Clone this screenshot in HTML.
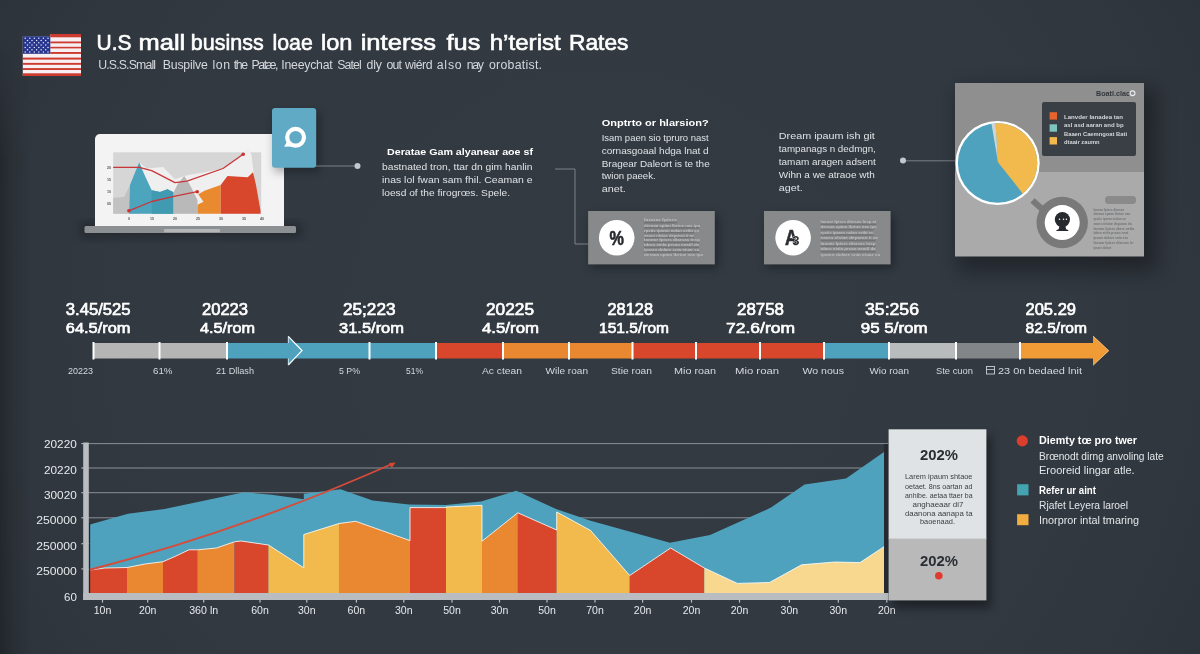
<!DOCTYPE html>
<html lang="en"><head><meta charset="utf-8"><title>U.S small business loan interest rates</title>
<style>
html,body{margin:0;padding:0;background:#323941;}
body{width:1200px;height:654px;overflow:hidden;}
svg{display:block;font-family:"Liberation Sans", Arial, sans-serif;}
</style></head><body>
<svg width="1200" height="654" viewBox="0 0 1200 654">
<defs>
<radialGradient id="vg" gradientUnits="userSpaceOnUse" cx="600" cy="327" r="700">
<stop offset="0" stop-color="#333a42"/><stop offset="0.65" stop-color="#323941"/><stop offset="0.88" stop-color="#30363d"/><stop offset="1" stop-color="#2c3239"/>
</radialGradient>
<linearGradient id="le" x1="0" x2="1" y1="0" y2="0"><stop offset="0" stop-color="#15181c" stop-opacity="0.45"/><stop offset="0.45" stop-color="#15181c" stop-opacity="0.18"/><stop offset="1" stop-color="#15181c" stop-opacity="0"/></linearGradient>
<linearGradient id="lmg" x1="0" x2="0" y1="0" y2="1"><stop offset="0.06" stop-color="#000"/><stop offset="0.24" stop-color="#fff"/><stop offset="1" stop-color="#fff"/></linearGradient>
<mask id="lm" maskUnits="userSpaceOnUse" x="0" y="0" width="40" height="654"><rect width="40" height="654" fill="url(#lmg)"/></mask>
<filter id="sh" x="-20%" y="-20%" width="150%" height="150%"><feGaussianBlur stdDeviation="5"/></filter>
<filter id="sh2" x="-30%" y="-30%" width="160%" height="160%"><feGaussianBlur stdDeviation="10"/></filter>
<filter id="soft" x="-5%" y="-5%" width="110%" height="110%"><feGaussianBlur stdDeviation="0.35"/></filter>
</defs>
<rect width="1200" height="654" fill="url(#vg)"/>
<rect width="30" height="654" fill="url(#le)" mask="url(#lm)"/>

<g id="flag">
<rect x="22.8" y="36.5" width="58.2" height="39.5" fill="#f7eff1"/>
<rect x="50.3" y="34.2" width="30.7" height="3" fill="#f7eff1"/>
<rect x="50.3" y="34.0" width="30.7" height="3.3" fill="#cc3a30"/>
<rect x="50.3" y="41.5" width="30.7" height="1.8" fill="#cc3a30"/>
<rect x="50.3" y="46.8" width="30.7" height="1.6" fill="#cc3a30"/>
<rect x="50.3" y="52" width="30.7" height="1.9" fill="#cc3a30"/>
<rect x="22.8" y="57.6" width="58.2" height="2.0" fill="#cc3a30"/>
<rect x="22.8" y="62.9" width="58.2" height="1.9" fill="#cc3a30"/>
<rect x="22.8" y="68.1" width="58.2" height="1.9" fill="#cc3a30"/>
<rect x="22.8" y="73.3" width="58.2" height="2.7" fill="#cc3a30"/>
<rect x="22.8" y="36.3" width="27.5" height="17.5" fill="#27358c"/>
<circle cx="25.2" cy="38.2" r="0.75" fill="#e4e8ff"/>
<circle cx="29.8" cy="38.2" r="0.75" fill="#e4e8ff"/>
<circle cx="34.3" cy="38.2" r="0.75" fill="#e4e8ff"/>
<circle cx="38.8" cy="38.2" r="0.75" fill="#e4e8ff"/>
<circle cx="43.4" cy="38.2" r="0.75" fill="#e4e8ff"/>
<circle cx="48.0" cy="38.2" r="0.75" fill="#e4e8ff"/>
<circle cx="27.5" cy="40.5" r="0.75" fill="#e4e8ff"/>
<circle cx="32.0" cy="40.5" r="0.75" fill="#e4e8ff"/>
<circle cx="36.6" cy="40.5" r="0.75" fill="#e4e8ff"/>
<circle cx="41.1" cy="40.5" r="0.75" fill="#e4e8ff"/>
<circle cx="45.7" cy="40.5" r="0.75" fill="#e4e8ff"/>
<circle cx="25.2" cy="42.8" r="0.75" fill="#e4e8ff"/>
<circle cx="29.8" cy="42.8" r="0.75" fill="#e4e8ff"/>
<circle cx="34.3" cy="42.8" r="0.75" fill="#e4e8ff"/>
<circle cx="38.8" cy="42.8" r="0.75" fill="#e4e8ff"/>
<circle cx="43.4" cy="42.8" r="0.75" fill="#e4e8ff"/>
<circle cx="48.0" cy="42.8" r="0.75" fill="#e4e8ff"/>
<circle cx="27.5" cy="45.1" r="0.75" fill="#e4e8ff"/>
<circle cx="32.0" cy="45.1" r="0.75" fill="#e4e8ff"/>
<circle cx="36.6" cy="45.1" r="0.75" fill="#e4e8ff"/>
<circle cx="41.1" cy="45.1" r="0.75" fill="#e4e8ff"/>
<circle cx="45.7" cy="45.1" r="0.75" fill="#e4e8ff"/>
<circle cx="25.2" cy="47.4" r="0.75" fill="#e4e8ff"/>
<circle cx="29.8" cy="47.4" r="0.75" fill="#e4e8ff"/>
<circle cx="34.3" cy="47.4" r="0.75" fill="#e4e8ff"/>
<circle cx="38.8" cy="47.4" r="0.75" fill="#e4e8ff"/>
<circle cx="43.4" cy="47.4" r="0.75" fill="#e4e8ff"/>
<circle cx="48.0" cy="47.4" r="0.75" fill="#e4e8ff"/>
<circle cx="27.5" cy="49.7" r="0.75" fill="#e4e8ff"/>
<circle cx="32.0" cy="49.7" r="0.75" fill="#e4e8ff"/>
<circle cx="36.6" cy="49.7" r="0.75" fill="#e4e8ff"/>
<circle cx="41.1" cy="49.7" r="0.75" fill="#e4e8ff"/>
<circle cx="45.7" cy="49.7" r="0.75" fill="#e4e8ff"/>
<circle cx="25.2" cy="52.0" r="0.75" fill="#e4e8ff"/>
<circle cx="29.8" cy="52.0" r="0.75" fill="#e4e8ff"/>
<circle cx="34.3" cy="52.0" r="0.75" fill="#e4e8ff"/>
<circle cx="38.8" cy="52.0" r="0.75" fill="#e4e8ff"/>
<circle cx="43.4" cy="52.0" r="0.75" fill="#e4e8ff"/>
<circle cx="48.0" cy="52.0" r="0.75" fill="#e4e8ff"/>
</g>
<text y="50.3" font-size="21.8" fill="#fff" stroke="#fff" stroke-width="0.6"><tspan x="96.5" textLength="35.0" lengthAdjust="spacingAndGlyphs">U.S</tspan> <tspan x="138.5" textLength="46.7" lengthAdjust="spacingAndGlyphs">mall</tspan> <tspan x="190.8" textLength="73.0" lengthAdjust="spacingAndGlyphs">businss</tspan> <tspan x="272.5" textLength="40.3" lengthAdjust="spacingAndGlyphs">loae</tspan> <tspan x="321" textLength="31.5" lengthAdjust="spacingAndGlyphs">lon</tspan> <tspan x="360.7" textLength="75.3" lengthAdjust="spacingAndGlyphs">interss</tspan> <tspan x="446.5" textLength="33.8" lengthAdjust="spacingAndGlyphs">fus</tspan> <tspan x="489.7" textLength="71.1" lengthAdjust="spacingAndGlyphs">h’terist</tspan> <tspan x="569" textLength="59.5" lengthAdjust="spacingAndGlyphs">Rates</tspan></text>
<text y="69.4" font-size="12.3" fill="#d4d7db"><tspan x="98.2" textLength="57.8" lengthAdjust="spacing">U.S.S.Small</tspan> <tspan x="162.8" textLength="45.0" lengthAdjust="spacing">Buspilve</tspan> <tspan x="212.5" textLength="17.5" lengthAdjust="spacing">lon</tspan> <tspan x="233.8" textLength="14.2" lengthAdjust="spacing">the</tspan> <tspan x="251.5" textLength="27.0" lengthAdjust="spacing">Patæ,</tspan> <tspan x="281.3" textLength="51.4" lengthAdjust="spacing">Ineeychat</tspan> <tspan x="337.3" textLength="24.5" lengthAdjust="spacing">Satel</tspan> <tspan x="366.5" textLength="15.5" lengthAdjust="spacing">dly</tspan> <tspan x="386.5" textLength="15.5" lengthAdjust="spacing">out</tspan> <tspan x="405" textLength="27.5" lengthAdjust="spacing">wiérd</tspan> <tspan x="436.7" textLength="25.0" lengthAdjust="spacing">also</tspan> <tspan x="466.8" textLength="17.0" lengthAdjust="spacing">nay</tspan> <tspan x="489" textLength="53" lengthAdjust="spacing">orobatist.</tspan></text>
<g id="laptop">
<rect x="80" y="222" width="222" height="16" fill="#000" opacity="0.25" filter="url(#sh)"/>
<path d="M95 226V139a5 5 0 0 1 5-5H279a5 5 0 0 1 5 5V226Z" fill="#f3f3f3"/>
<rect x="84.5" y="226" width="211.5" height="7" rx="1.5" fill="#8d9093"/>
<rect x="164" y="229" width="56" height="3.2" rx="1" fill="#b4b6b8"/>
<rect x="113.2" y="152.3" width="148" height="61.5" fill="#d6d6d6"/>
<path d="M139.3 162.2L146.5 168.5L163.0 167.0L175.0 179.3L184.3 176.0L190.0 174.8L205.0 172.2L223.0 168.5L243.2 154.2L247.7 148.2L251.5 154.5L253.5 172V213.8H139.3Z" fill="#efefef"/>
<path d="M113.2 213.8L113.2 197.7L124.0 197.0L130.0 185.0L130.0 213.8Z" fill="#c2c2c2"/>
<path d="M129.2 213.8L130.0 185.0L134.5 173.7L139.3 162.2L142.7 170.7L146.5 179.3L151.7 190.2L160.0 192.0L167.5 189.2L173.5 192.2L173.5 213.8Z" fill="#4ca4bd"/>
<path d="M151.7 213.8L151.7 190.2L160.0 192.0L167.5 189.2L173.5 192.2L173.5 213.8Z" fill="#409bb2"/>
<path d="M173.5 213.8L173.5 192.5L178.0 183.5L184.3 176.0L190.0 185.0L197.5 200.0L197.5 213.8Z" fill="#b9b9b9"/>
<path d="M197.5 213.8L197.5 204.8L203.5 201.8L198.2 194.3L205.0 190.5L220.7 185.0L220.7 213.8Z" fill="#ea8a2e"/>
<path d="M220.7 213.8L220.7 185.0L227.5 176.0L247.7 177.2L253.0 172.2L256.0 185.0L260.5 210.5L260.5 213.8Z" fill="#d8472c"/>
<path d="M113.2 167.3L139.3 167.3L151.7 170.7L175.0 182.7L187.0 181.2L223.0 168.5L243.2 154.2" fill="none" stroke="#c9363a" stroke-width="1.3" stroke-linejoin="round"/>
<path d="M128.9 210.8L151.7 201.5L175.0 196.2L197.2 191.7" fill="none" stroke="#c9363a" stroke-width="1.3" stroke-linejoin="round"/>
<circle cx="243.2" cy="154.2" r="1.8" fill="#cf2f2f"/>
<circle cx="128.9" cy="210.8" r="1.8" fill="#cf2f2f"/>
<circle cx="197.2" cy="191.7" r="1.8" fill="#cf2f2f"/>
<text x="109" y="169.3" font-size="3.6" fill="#555" font-weight="bold" text-anchor="middle">20</text>
<text x="109" y="181.3" font-size="3.6" fill="#555" font-weight="bold" text-anchor="middle">15</text>
<text x="109" y="193.3" font-size="3.6" fill="#555" font-weight="bold" text-anchor="middle">10</text>
<text x="109" y="205.3" font-size="3.6" fill="#555" font-weight="bold" text-anchor="middle">05</text>
<text x="129" y="219.6" font-size="3.6" fill="#555" font-weight="bold" text-anchor="middle">0</text>
<text x="152" y="219.6" font-size="3.6" fill="#555" font-weight="bold" text-anchor="middle">15</text>
<text x="175" y="219.6" font-size="3.6" fill="#555" font-weight="bold" text-anchor="middle">20</text>
<text x="198" y="219.6" font-size="3.6" fill="#555" font-weight="bold" text-anchor="middle">25</text>
<text x="221" y="219.6" font-size="3.6" fill="#555" font-weight="bold" text-anchor="middle">30</text>
<text x="244" y="219.6" font-size="3.6" fill="#555" font-weight="bold" text-anchor="middle">35</text>
<text x="262" y="219.6" font-size="3.6" fill="#555" font-weight="bold" text-anchor="middle">40</text>
</g>
<g id="card">
<rect x="274" y="112" width="46" height="60" fill="#000" opacity="0.3" filter="url(#sh)"/>
<rect x="272" y="108" width="44.2" height="59.7" rx="3" fill="#61aac5"/>
<circle cx="295.6" cy="137.3" r="8.4" fill="none" stroke="#fff" stroke-width="4.2"/>
<path d="M287 141.5L284.2 146.8L291.5 146.4Z" fill="#fff"/>
</g>
<path d="M316 166H357" stroke="#8d9299" stroke-width="0.8"/><circle cx="357.5" cy="166" r="3" fill="#c3c7d0"/>
<text x="387" y="154.5" font-size="9.6" fill="#fff" font-weight="bold" textLength="146" lengthAdjust="spacingAndGlyphs">Deratae Gam alyanear aoe sf</text>
<text x="382" y="169.5" font-size="9.9" fill="#e0e3e6" textLength="150.5" lengthAdjust="spacingAndGlyphs">bastnated tron, ttar dn gim hanlin</text>
<text x="382" y="183" font-size="9.9" fill="#e0e3e6" textLength="150.5" lengthAdjust="spacingAndGlyphs">inas lol fwan  sam fhil. Ceaman e</text>
<text x="382" y="196" font-size="9.9" fill="#e0e3e6" textLength="128" lengthAdjust="spacingAndGlyphs">loesd of the firogrœs. Spele.</text>
<path d="M555 169H575V244H589" fill="none" stroke="#858a91" stroke-width="0.9"/>
<text x="601.7" y="125.5" font-size="9.6" fill="#fff" font-weight="bold" textLength="107" lengthAdjust="spacingAndGlyphs">Onptrto or hlarsion?</text>
<text x="601.7" y="140.5" font-size="9.8" fill="#e0e3e6" textLength="107" lengthAdjust="spacingAndGlyphs">Isam paen sio tpruro nast</text>
<text x="601.7" y="153.8" font-size="9.8" fill="#e0e3e6" textLength="107" lengthAdjust="spacingAndGlyphs">cornasgoaal hdga lnat d</text>
<text x="601.7" y="167" font-size="9.8" fill="#e0e3e6" textLength="108" lengthAdjust="spacingAndGlyphs">Bragear Daleort is te the</text>
<text x="601.7" y="179.3" font-size="9.8" fill="#e0e3e6" textLength="54" lengthAdjust="spacingAndGlyphs">twion paeek.</text>
<text x="601.7" y="192" font-size="9.8" fill="#e0e3e6" textLength="24" lengthAdjust="spacingAndGlyphs">anet.</text>
<rect x="591.1" y="215" width="126.69999999999993" height="53" fill="#000" opacity="0.35" filter="url(#sh)"/>
<rect x="588.1" y="211" width="126.69999999999993" height="53.4" fill="#87898a"/>
<circle cx="616.7" cy="237.7" r="17.8" fill="#fff"/>
<rect x="644.1" y="221.9" width="33" height="1.6" fill="#717374"/>
<text x="644.1" y="221.3" font-size="4.0" fill="#bdbebf" font-weight="bold" textLength="33" lengthAdjust="spacingAndGlyphs">laonar fpisrs </text>
<rect x="644.1" y="227.1" width="55" height="1.6" fill="#717374"/>
<text x="644.1" y="226.7" font-size="4.0" fill="#bdbebf" font-weight="bold" textLength="56" lengthAdjust="spacingAndGlyphs">deraoa cptan lbrtue nas ipa</text>
<rect x="644.1" y="232.0" width="50" height="1.6" fill="#717374"/>
<text x="644.1" y="231.6" font-size="4.0" fill="#bdbebf" font-weight="bold" textLength="55" lengthAdjust="spacingAndGlyphs">rpstis iparan nolan seibt eu</text>
<rect x="644.1" y="236.8" width="50" height="1.6" fill="#717374"/>
<text x="644.1" y="236.6" font-size="4.0" fill="#bdbebf" font-weight="bold" textLength="50" lengthAdjust="spacingAndGlyphs">eaoru nlstae deporan ti ae</text>
<rect x="644.1" y="241.6" width="55" height="1.6" fill="#717374"/>
<text x="644.1" y="241.3" font-size="4.0" fill="#bdbebf" font-weight="bold" textLength="56" lengthAdjust="spacingAndGlyphs">laonar fpisrs diarsas lnsp</text>
<rect x="644.1" y="246.5" width="55" height="1.6" fill="#717374"/>
<text x="644.1" y="246.1" font-size="4.0" fill="#bdbebf" font-weight="bold" textLength="55" lengthAdjust="spacingAndGlyphs">tdaro einla prsao neatil da</text>
<rect x="644.1" y="251.3" width="55" height="1.6" fill="#717374"/>
<text x="644.1" y="251.1" font-size="4.0" fill="#bdbebf" font-weight="bold" textLength="55" lengthAdjust="spacingAndGlyphs">ipsarn dolare snia etuar sa</text>
<text x="644.1" y="255.8" font-size="4.0" fill="#bdbebf" font-weight="bold" textLength="59" lengthAdjust="spacingAndGlyphs">deraoa cptan lbrtue nas ipa</text>
<text x="609.6" y="244.6" font-size="20.5" font-weight="bold" fill="#27292c" stroke="#27292c" stroke-width="0.6" textLength="14.4" lengthAdjust="spacingAndGlyphs">%</text>
<rect x="767" y="215" width="126.60000000000002" height="53" fill="#000" opacity="0.35" filter="url(#sh)"/>
<rect x="764" y="211" width="126.60000000000002" height="53.4" fill="#87898a"/>
<circle cx="793.1" cy="237.7" r="17.8" fill="#fff"/>
<rect x="820.6" y="223.6" width="55.6" height="1.6" fill="#717374"/>
<text x="820.6" y="223.2" font-size="4.0" fill="#bdbebf" font-weight="bold" textLength="55.6" lengthAdjust="spacingAndGlyphs">laonar fpisrs diarsas lnsp at</text>
<rect x="820.6" y="228.9" width="53" height="1.6" fill="#717374"/>
<text x="820.6" y="228.2" font-size="4.0" fill="#bdbebf" font-weight="bold" textLength="56" lengthAdjust="spacingAndGlyphs">deraoa cptan lbrtue nas ipa</text>
<rect x="820.6" y="234.2" width="53" height="1.6" fill="#717374"/>
<text x="820.6" y="233.8" font-size="4.0" fill="#bdbebf" font-weight="bold" textLength="53" lengthAdjust="spacingAndGlyphs">rpstis iparan nolan seibt eu</text>
<rect x="820.6" y="239.7" width="55" height="1.6" fill="#717374"/>
<text x="820.6" y="238.8" font-size="4.0" fill="#bdbebf" font-weight="bold" textLength="57.5" lengthAdjust="spacingAndGlyphs">eaoru nlstae deporan ti ae</text>
<rect x="820.6" y="245.4" width="55" height="1.6" fill="#717374"/>
<text x="820.6" y="244.8" font-size="4.0" fill="#bdbebf" font-weight="bold" textLength="55" lengthAdjust="spacingAndGlyphs">laonar fpisrs diarsas lnsp</text>
<rect x="820.6" y="250.9" width="55" height="1.6" fill="#717374"/>
<text x="820.6" y="250.3" font-size="4.0" fill="#bdbebf" font-weight="bold" textLength="55" lengthAdjust="spacingAndGlyphs">tdaro einla prsao neatil da</text>
<text x="820.6" y="255.7" font-size="4.0" fill="#bdbebf" font-weight="bold" textLength="59.4" lengthAdjust="spacingAndGlyphs">ipsarn dolare snia etuar sa</text>
<text x="785" y="245.4" font-size="22" font-weight="bold" fill="#2b2d30" stroke="#2b2d30" stroke-width="0.6" textLength="12.6" lengthAdjust="spacingAndGlyphs">A</text>
<text x="792.2" y="245.3" font-size="12.5" font-weight="bold" fill="#2b2d30" stroke="#fff" stroke-width="0.5" paint-order="stroke" textLength="7.2" lengthAdjust="spacingAndGlyphs">3</text>
<text x="778.8" y="138.9" font-size="9.3" fill="#e0e3e6" textLength="96" lengthAdjust="spacingAndGlyphs">Dream ipaum ish git</text>
<text x="778.8" y="152.1" font-size="9.3" fill="#e0e3e6" textLength="97" lengthAdjust="spacingAndGlyphs">tampanags n dedmgn,</text>
<text x="778.8" y="164.8" font-size="9.3" fill="#e0e3e6" textLength="97" lengthAdjust="spacingAndGlyphs">tamam aragen adsent</text>
<text x="778.8" y="178.1" font-size="9.3" fill="#e0e3e6" textLength="96" lengthAdjust="spacingAndGlyphs">Wihn a we atraoe wth</text>
<text x="778.8" y="190.9" font-size="9.3" fill="#e0e3e6" textLength="24" lengthAdjust="spacingAndGlyphs">aget.</text>
<path d="M903 160.8H956" stroke="#8d9299" stroke-width="0.8"/><circle cx="903" cy="160.6" r="3" fill="#c3c7d0"/>
<g id="panel">
<rect x="957" y="88" width="200" height="184" fill="#000" opacity="0.33" filter="url(#sh2)"/>
<rect x="955" y="83" width="189" height="89" fill="#8f8f8f"/>
<rect x="955" y="172" width="189" height="84.5" fill="#aaaaaa"/>
<rect x="1042" y="102" width="94" height="54" rx="2" fill="#3a3f46"/>
<rect x="1049.6" y="112.2" width="7.4" height="7.4" fill="#e8642f"/>
<rect x="1049.6" y="124.3" width="7.4" height="7.4" fill="#7fc3bf"/>
<rect x="1049.6" y="137.1" width="7.4" height="7.4" fill="#f2b94c"/>
<text x="1064" y="118.8" font-size="6.0" fill="#d3d6da" font-weight="bold" textLength="59" lengthAdjust="spacingAndGlyphs">Lanvder Ianadea tan</text>
<text x="1064" y="127.4" font-size="6.0" fill="#d3d6da" font-weight="bold" textLength="59.6" lengthAdjust="spacingAndGlyphs">asl asd aaran and bp</text>
<text x="1064" y="136.1" font-size="6.0" fill="#d3d6da" font-weight="bold" textLength="63" lengthAdjust="spacingAndGlyphs">Baaen Caemngoat Bati</text>
<text x="1064" y="144.3" font-size="6.0" fill="#d3d6da" font-weight="bold" textLength="35.6" lengthAdjust="spacingAndGlyphs">dtaair zaumn</text>
<text x="1096" y="95.8" font-size="6.6" fill="#33373c" font-weight="bold" textLength="34" lengthAdjust="spacingAndGlyphs">Boatl.clac</text>
<circle cx="1132.5" cy="93.3" r="2.4" fill="none" stroke="#e8e8e8" stroke-width="1.2"/>
<circle cx="997.6" cy="163" r="42.1" fill="#fff"/>
<circle cx="997.6" cy="163" r="39.7" fill="#4fa2bd"/>
<path d="M998 162.2L995.5 123.4A39.7 39.7 0 0 1 1022.8 193.7Z" fill="#f2b94c"/>
<path d="M998 162.2L991.5 123.8A39.7 39.7 0 0 1 995.5 123.4Z" fill="#cfd6d6"/>
<path d="M1032.5 200.5L1046 212.5" stroke="#797979" stroke-width="6.3"/>
<circle cx="1062.2" cy="222.5" r="25.7" fill="#797979"/>
<circle cx="1062.2" cy="222.6" r="17.5" fill="#fff"/>
<circle cx="1062.4" cy="219.6" r="7.6" fill="#26292e"/>
<path d="M1059.6 226L1058.6 229.2Q1056.4 229.6 1056 231H1068.8Q1068.4 229.6 1066.2 229.2L1065.2 226Z" fill="#26292e"/>
<circle cx="1059.5" cy="219.3" r="0.75" fill="#fff"/>
<circle cx="1063.5" cy="219.3" r="0.75" fill="#fff"/>
<circle cx="1066.4" cy="219.3" r="0.75" fill="#fff"/>
<rect x="1105" y="196" width="31" height="8" rx="3.5" fill="#8a8a8a"/>
<text x="1093.4" y="210.7" font-size="4.0" fill="#707274" font-weight="bold" textLength="31" lengthAdjust="spacingAndGlyphs">laonar fpisrs diarsas</text>
<text x="1093.4" y="215.2" font-size="4.0" fill="#707274" font-weight="bold" textLength="37" lengthAdjust="spacingAndGlyphs">deraoa cptan lbrtue nas</text>
<text x="1093.4" y="220.1" font-size="4.0" fill="#707274" font-weight="bold" textLength="32.7" lengthAdjust="spacingAndGlyphs">rpstis iparan nolan se</text>
<text x="1093.4" y="224.7" font-size="4.0" fill="#707274" font-weight="bold" textLength="38.4" lengthAdjust="spacingAndGlyphs">eaoru nlstae deporan tia</text>
<text x="1093.4" y="229.6" font-size="4.0" fill="#707274" font-weight="bold" textLength="40.7" lengthAdjust="spacingAndGlyphs">laonar fpisrs diars aetla</text>
<text x="1093.4" y="234.2" font-size="4.0" fill="#707274" font-weight="bold" textLength="35" lengthAdjust="spacingAndGlyphs">tdaro einla prsao neat</text>
<text x="1093.4" y="239.0" font-size="4.0" fill="#707274" font-weight="bold" textLength="34.4" lengthAdjust="spacingAndGlyphs">ipsarn dolare snia etu</text>
<text x="1093.4" y="243.6" font-size="4.0" fill="#707274" font-weight="bold" textLength="40" lengthAdjust="spacingAndGlyphs">laonar fpisrs diarsas ln</text>
<text x="1093.4" y="248.6" font-size="4.0" fill="#707274" font-weight="bold" textLength="18" lengthAdjust="spacingAndGlyphs">ipsarn dolare</text>
</g>
<g id="timeline">
<rect x="93" y="343" width="66" height="15.5" fill="#b5b5b5"/>
<rect x="159" y="343" width="68" height="15.5" fill="#b5b5b5"/>
<rect x="227" y="343" width="209" height="15.5" fill="#4fa2bd"/>
<rect x="436" y="343" width="67" height="15.5" fill="#d8472c"/>
<rect x="503" y="343" width="129.5" height="15.5" fill="#ea8831"/>
<rect x="632.5" y="343" width="191.5" height="15.5" fill="#d8472c"/>
<rect x="824" y="343" width="65" height="15.5" fill="#4fa2bd"/>
<rect x="889" y="343" width="67" height="15.5" fill="#b9bcbc"/>
<rect x="956" y="343" width="64" height="15.5" fill="#838688"/>
<rect x="1020" y="343" width="74" height="15.5" fill="#f09b36"/>
<path d="M1093 335.8L1109 350.7L1093 365.6Z" fill="#f09b36"/>
<path d="M1093.2 336.2L1108.7 350.7L1093.2 365.2" fill="none" stroke="#fbe6bd" stroke-width="0.7" opacity="0.8"/>
<path d="M288 336.6L301.8 350.6L288 364.8Z" fill="#4fa2bd"/>
<path d="M288.3 336.4L302 350.6L288.3 365" fill="none" stroke="#fff" stroke-width="1.25" stroke-linejoin="miter"/>
<path d="M288.3 336.4V343M288.3 358.5V365" fill="none" stroke="#fff" stroke-width="0.9" opacity="0.8"/>
<rect x="92.5" y="342" width="2" height="17.5" fill="#fff"/>
<rect x="158.5" y="342" width="2" height="17.5" fill="#fff"/>
<rect x="226" y="342" width="2" height="17.5" fill="#fff"/>
<rect x="368.5" y="342" width="2" height="17.5" fill="#fff"/>
<rect x="435" y="342" width="2" height="17.5" fill="#fff"/>
<rect x="502" y="342" width="2" height="17.5" fill="#fff"/>
<rect x="568" y="342" width="2" height="17.5" fill="#fff"/>
<rect x="631.5" y="342" width="2" height="17.5" fill="#fff"/>
<rect x="695" y="342" width="2" height="17.5" fill="#fff"/>
<rect x="759" y="342" width="2" height="17.5" fill="#fff"/>
<rect x="823" y="342" width="2" height="17.5" fill="#fff"/>
<rect x="888" y="342" width="2" height="17.5" fill="#fff"/>
<rect x="955" y="342" width="2" height="17.5" fill="#fff"/>
<rect x="1019" y="342" width="2" height="17.5" fill="#fff"/>
<text x="65.75" y="314.6" font-size="15.8" fill="#fff" textLength="64.8" lengthAdjust="spacingAndGlyphs" stroke="#fff" stroke-width="0.65">3.45/525</text>
<text x="65.75" y="332.8" font-size="15.4" fill="#fff" textLength="64.8" lengthAdjust="spacingAndGlyphs" stroke="#fff" stroke-width="0.65">64.5/rom</text>
<text x="202" y="314.6" font-size="15.8" fill="#fff" textLength="46" lengthAdjust="spacingAndGlyphs" stroke="#fff" stroke-width="0.65">20223</text>
<text x="200" y="332.8" font-size="15.4" fill="#fff" textLength="55" lengthAdjust="spacingAndGlyphs" stroke="#fff" stroke-width="0.65">4.5/rom</text>
<text x="343" y="314.6" font-size="15.8" fill="#fff" textLength="52.5" lengthAdjust="spacingAndGlyphs" stroke="#fff" stroke-width="0.65">25;223</text>
<text x="339" y="332.8" font-size="15.4" fill="#fff" textLength="65" lengthAdjust="spacingAndGlyphs" stroke="#fff" stroke-width="0.65">31.5/rom</text>
<text x="486" y="314.6" font-size="15.8" fill="#fff" textLength="48" lengthAdjust="spacingAndGlyphs" stroke="#fff" stroke-width="0.65">20225</text>
<text x="482" y="332.8" font-size="15.4" fill="#fff" textLength="57" lengthAdjust="spacingAndGlyphs" stroke="#fff" stroke-width="0.65">4.5/rom</text>
<text x="607.5" y="314.6" font-size="15.8" fill="#fff" textLength="45.5" lengthAdjust="spacingAndGlyphs" stroke="#fff" stroke-width="0.65">28128</text>
<text x="599" y="332.8" font-size="15.4" fill="#fff" textLength="70" lengthAdjust="spacingAndGlyphs" stroke="#fff" stroke-width="0.65">151.5/rom</text>
<text x="737" y="314.6" font-size="15.8" fill="#fff" textLength="47" lengthAdjust="spacingAndGlyphs" stroke="#fff" stroke-width="0.65">28758</text>
<text x="726" y="332.8" font-size="15.4" fill="#fff" textLength="69" lengthAdjust="spacingAndGlyphs" stroke="#fff" stroke-width="0.65">72.6/rom</text>
<text x="865" y="314.6" font-size="15.8" fill="#fff" textLength="54" lengthAdjust="spacingAndGlyphs" stroke="#fff" stroke-width="0.65">35:256</text>
<text x="860.75" y="332.8" font-size="15.4" fill="#fff" textLength="66.8" lengthAdjust="spacingAndGlyphs" stroke="#fff" stroke-width="0.65">95 5/rom</text>
<text x="1025.5" y="314.6" font-size="15.8" fill="#fff" textLength="50.5" lengthAdjust="spacingAndGlyphs" stroke="#fff" stroke-width="0.65">205.29</text>
<text x="1025.5" y="332.8" font-size="15.4" fill="#fff" textLength="61.5" lengthAdjust="spacingAndGlyphs" stroke="#fff" stroke-width="0.65">82.5/rom</text>
<text x="68" y="374" font-size="9" fill="#d6d9dd" textLength="25" lengthAdjust="spacingAndGlyphs">20223</text>
<text x="153" y="374" font-size="9" fill="#d6d9dd" textLength="19.5" lengthAdjust="spacingAndGlyphs">61%</text>
<text x="216" y="374" font-size="9" fill="#d6d9dd" textLength="38" lengthAdjust="spacingAndGlyphs">21 Dllash</text>
<text x="339" y="374" font-size="9" fill="#d6d9dd" textLength="21" lengthAdjust="spacingAndGlyphs">5 P%</text>
<text x="406" y="374" font-size="9" fill="#d6d9dd" textLength="17" lengthAdjust="spacingAndGlyphs">51%</text>
<text x="482" y="374" font-size="9" fill="#d6d9dd" textLength="40" lengthAdjust="spacingAndGlyphs">Ac ctean</text>
<text x="545.5" y="374" font-size="9" fill="#d6d9dd" textLength="42.5" lengthAdjust="spacingAndGlyphs">Wile roan</text>
<text x="611" y="374" font-size="9" fill="#d6d9dd" textLength="41" lengthAdjust="spacingAndGlyphs">Stie roan</text>
<text x="674" y="374" font-size="9" fill="#d6d9dd" textLength="42" lengthAdjust="spacingAndGlyphs">Mio roan</text>
<text x="735" y="374" font-size="9" fill="#d6d9dd" textLength="44" lengthAdjust="spacingAndGlyphs">Mio roan</text>
<text x="802.5" y="374" font-size="9" fill="#d6d9dd" textLength="41.5" lengthAdjust="spacingAndGlyphs">Wo nous</text>
<text x="869.5" y="374" font-size="9" fill="#d6d9dd" textLength="39.5" lengthAdjust="spacingAndGlyphs">Wio roan</text>
<text x="936" y="374" font-size="9" fill="#d6d9dd" textLength="37" lengthAdjust="spacingAndGlyphs">Ste cuon</text>
<text x="998" y="374" font-size="9" fill="#d6d9dd" textLength="84" lengthAdjust="spacingAndGlyphs">23 0n bedaed lnit</text>
<rect x="986.5" y="366.5" width="8" height="7.5" fill="none" stroke="#ccd0d4" stroke-width="0.9"/><path d="M986.5 369.5H994.5" stroke="#ccd0d4" stroke-width="0.8"/>
</g>
<g id="chart">
<rect x="86" y="443.1" width="802" height="1" fill="#8a8f96"/>
<rect x="81.4" y="443.0" width="2" height="1.2" fill="#b9bdc1"/>
<rect x="86" y="467.5" width="802" height="1" fill="#8a8f96"/>
<rect x="81.4" y="467.4" width="2" height="1.2" fill="#b9bdc1"/>
<rect x="86" y="492.2" width="802" height="1" fill="#8a8f96"/>
<rect x="81.4" y="492.09999999999997" width="2" height="1.2" fill="#b9bdc1"/>
<rect x="86" y="517.3" width="802" height="1" fill="#8a8f96"/>
<rect x="81.4" y="517.1999999999999" width="2" height="1.2" fill="#b9bdc1"/>
<rect x="86" y="543.2" width="802" height="1" fill="#8a8f96"/>
<rect x="81.4" y="543.1" width="2" height="1.2" fill="#b9bdc1"/>
<rect x="86" y="568.4" width="802" height="1" fill="#8a8f96"/>
<rect x="81.4" y="568.3" width="2" height="1.2" fill="#b9bdc1"/>
<path d="M90 524.4L128 513.7L164.5 509L244 492.3L271.6 494.7L303.8 499.3L303.8 493.8L340.5 489.2L372.6 500.5L409 504.5L446 505L481 501.5L516.3 490.7L556 509L590.6 520.7L670 542.7L710 535L771 507.6L804.6 484.6L846 478.5L884 452L884 593L90 593Z" fill="#4fa2bd"/>
<path d="M90 570L105 568L127 567.5L127 593L90 593Z" fill="#d8472c"/>
<path d="M127 567.5L145 564L163 561.7L163 593L127 593Z" fill="#ea8831"/>
<path d="M163 561.7L176 556L189 549.8L197.6 549.8L197.6 593L163 593Z" fill="#d8472c"/>
<path d="M197.6 549.8L216.5 548L234.3 541.8L234.3 593L197.6 593Z" fill="#ea8831"/>
<path d="M234.3 541.8L241 541L268.5 545L268.5 593L234.3 593Z" fill="#d8472c"/>
<path d="M268.5 545L303.8 567.8L303.8 534.5L339 523.5L339 593L268.5 593Z" fill="#f2b94c"/>
<path d="M339 523.5L355.7 521.3L381.7 530.5L410 540.6L410 593L339 593Z" fill="#ea8831"/>
<path d="M410 507.6L446 507.6L446 593L410 593Z" fill="#d8472c"/>
<path d="M446 507L482 505.3L482 593L446 593Z" fill="#f2b94c"/>
<path d="M482 541.2L517.8 512.8L517.8 593L482 593Z" fill="#ea8831"/>
<path d="M517.8 512.8L556.7 530L556.7 593L517.8 593Z" fill="#d8472c"/>
<path d="M556.7 512L590.6 530.5L629.7 575.5L629.7 593L556.7 593Z" fill="#f2b94c"/>
<path d="M629.7 575.5L670.7 548L704.3 568L704.3 593L629.7 593Z" fill="#d8472c"/>
<path d="M704.3 568L737.4 583.4L769.5 582.5L801.6 564.8L835 562L860 562.6L884 546.7L884 593L704.3 593Z" fill="#f8d88f"/>
<path d="M90 570L105 568L127 567.5L127 567.5L145 564L163 561.7L163 561.7L176 556L189 549.8L197.6 549.8L197.6 549.8L216.5 548L234.3 541.8L234.3 541.8L241 541L268.5 545L268.5 545L303.8 567.8L303.8 534.5L339 523.5L339 523.5L355.7 521.3L381.7 530.5L410 540.6L410 507.6L446 507.6L446 507L482 505.3L482 541.2L517.8 512.8L517.8 512.8L556.7 530L556.7 512L590.6 530.5L629.7 575.5L629.7 575.5L670.7 548L704.3 568L704.3 568L737.4 583.4L769.5 582.5L801.6 564.8L835 562L860 562.6L884 546.7" fill="none" stroke="#fff" stroke-width="0.9" stroke-linejoin="round" opacity="0.9"/>
<path d="M89 570Q241 531 393 463.5" stroke="#d64b3a" stroke-width="1.9" fill="none"/>
<path d="M395.6 462.4L388.9 463.0L391.6 468.2Z" fill="#d8472c"/>
<rect x="88.6" y="523" width="1.6" height="70" fill="#182026" opacity="0.75"/>
<rect x="83.2" y="442.5" width="5.6" height="157.5" fill="#b9bdc1"/>
<rect x="83.2" y="593" width="805.3" height="7" fill="#b9bdc1"/>
<rect x="884" y="444" width="4.8" height="149" fill="#272b31"/>
<text x="44.0" y="448.3" font-size="11.6" fill="#e6e9ec" textLength="32.8" lengthAdjust="spacingAndGlyphs">20220</text>
<text x="44.0" y="473.6" font-size="11.6" fill="#e6e9ec" textLength="32.8" lengthAdjust="spacingAndGlyphs">20220</text>
<text x="44.0" y="498.5" font-size="11.6" fill="#e6e9ec" textLength="32.8" lengthAdjust="spacingAndGlyphs">30020</text>
<text x="36.199999999999996" y="523.8" font-size="11.6" fill="#e6e9ec" textLength="40.6" lengthAdjust="spacingAndGlyphs">250000</text>
<text x="36.199999999999996" y="549.9" font-size="11.6" fill="#e6e9ec" textLength="40.6" lengthAdjust="spacingAndGlyphs">250000</text>
<text x="36.199999999999996" y="575.0" font-size="11.6" fill="#e6e9ec" textLength="40.6" lengthAdjust="spacingAndGlyphs">250000</text>
<text x="64.0" y="601.1" font-size="11.6" fill="#e6e9ec" textLength="12.8" lengthAdjust="spacingAndGlyphs">60</text>
<text x="93.7" y="614" font-size="11.2" fill="#e6e9ec" textLength="17.6" lengthAdjust="spacingAndGlyphs">10n</text>
<rect x="101.9" y="600" width="1.2" height="2.6" fill="#b9bdc1"/>
<text x="138.9" y="614" font-size="11.2" fill="#e6e9ec" textLength="17.6" lengthAdjust="spacingAndGlyphs">20n</text>
<rect x="147.1" y="600" width="1.2" height="2.6" fill="#b9bdc1"/>
<text x="189.2" y="614" font-size="11.2" fill="#e6e9ec" textLength="29" lengthAdjust="spacingAndGlyphs">360 ln</text>
<rect x="203.1" y="600" width="1.2" height="2.6" fill="#b9bdc1"/>
<text x="251.2" y="614" font-size="11.2" fill="#e6e9ec" textLength="17.6" lengthAdjust="spacingAndGlyphs">60n</text>
<rect x="259.4" y="600" width="1.2" height="2.6" fill="#b9bdc1"/>
<text x="298.0" y="614" font-size="11.2" fill="#e6e9ec" textLength="17.6" lengthAdjust="spacingAndGlyphs">30n</text>
<rect x="306.2" y="600" width="1.2" height="2.6" fill="#b9bdc1"/>
<text x="347.6" y="614" font-size="11.2" fill="#e6e9ec" textLength="17.6" lengthAdjust="spacingAndGlyphs">60n</text>
<rect x="355.79999999999995" y="600" width="1.2" height="2.6" fill="#b9bdc1"/>
<text x="395.0" y="614" font-size="11.2" fill="#e6e9ec" textLength="17.6" lengthAdjust="spacingAndGlyphs">30n</text>
<rect x="403.2" y="600" width="1.2" height="2.6" fill="#b9bdc1"/>
<text x="443.2" y="614" font-size="11.2" fill="#e6e9ec" textLength="17.6" lengthAdjust="spacingAndGlyphs">50n</text>
<rect x="451.4" y="600" width="1.2" height="2.6" fill="#b9bdc1"/>
<text x="490.7" y="614" font-size="11.2" fill="#e6e9ec" textLength="17.6" lengthAdjust="spacingAndGlyphs">30n</text>
<rect x="498.9" y="600" width="1.2" height="2.6" fill="#b9bdc1"/>
<text x="538.2" y="614" font-size="11.2" fill="#e6e9ec" textLength="17.6" lengthAdjust="spacingAndGlyphs">50n</text>
<rect x="546.4" y="600" width="1.2" height="2.6" fill="#b9bdc1"/>
<text x="586.2" y="614" font-size="11.2" fill="#e6e9ec" textLength="17.6" lengthAdjust="spacingAndGlyphs">70n</text>
<rect x="594.4" y="600" width="1.2" height="2.6" fill="#b9bdc1"/>
<text x="633.8" y="614" font-size="11.2" fill="#e6e9ec" textLength="17.6" lengthAdjust="spacingAndGlyphs">20n</text>
<rect x="642.0" y="600" width="1.2" height="2.6" fill="#b9bdc1"/>
<text x="682.7" y="614" font-size="11.2" fill="#e6e9ec" textLength="17.6" lengthAdjust="spacingAndGlyphs">20n</text>
<rect x="690.9" y="600" width="1.2" height="2.6" fill="#b9bdc1"/>
<text x="730.7" y="614" font-size="11.2" fill="#e6e9ec" textLength="17.6" lengthAdjust="spacingAndGlyphs">20n</text>
<rect x="738.9" y="600" width="1.2" height="2.6" fill="#b9bdc1"/>
<text x="780.6" y="614" font-size="11.2" fill="#e6e9ec" textLength="17.6" lengthAdjust="spacingAndGlyphs">30n</text>
<rect x="788.8" y="600" width="1.2" height="2.6" fill="#b9bdc1"/>
<text x="829.5" y="614" font-size="11.2" fill="#e6e9ec" textLength="17.6" lengthAdjust="spacingAndGlyphs">30n</text>
<rect x="837.6999999999999" y="600" width="1.2" height="2.6" fill="#b9bdc1"/>
<text x="878.0" y="614" font-size="11.2" fill="#e6e9ec" textLength="17.6" lengthAdjust="spacingAndGlyphs">20n</text>
<rect x="886.1999999999999" y="600" width="1.2" height="2.6" fill="#b9bdc1"/>
<rect x="893" y="436" width="98" height="172" fill="#000" opacity="0.4" filter="url(#sh)"/>
<rect x="888.6" y="429.3" width="97.8" height="110" fill="#dfe3e5"/>
<rect x="888.6" y="538.6" width="97.8" height="61.8" fill="#b9b9b9"/>
<text x="920" y="460.4" font-size="15" fill="#2a2e33" font-weight="bold" textLength="38" lengthAdjust="spacingAndGlyphs">202%</text>
<text x="920" y="566" font-size="15" fill="#2a2e33" font-weight="bold" textLength="38" lengthAdjust="spacingAndGlyphs">202%</text>
<circle cx="938.8" cy="575.8" r="3.8" fill="#e03b2e"/>
<text x="905" y="479.3" font-size="6.6" fill="#3d4146" textLength="67.5" lengthAdjust="spacingAndGlyphs">Larem ipaum shtaoe</text>
<text x="905" y="488.6" font-size="6.6" fill="#3d4146" textLength="67.5" lengthAdjust="spacingAndGlyphs">oetaet. 8ns oartan ad</text>
<text x="905" y="497.6" font-size="6.6" fill="#3d4146" textLength="67.5" lengthAdjust="spacingAndGlyphs">anhibe. aetaa ttaer ba</text>
<text x="912.5" y="506.6" font-size="6.6" fill="#3d4146" textLength="51.0" lengthAdjust="spacingAndGlyphs">anghaeaar di7</text>
<text x="905" y="515.5999999999999" font-size="6.6" fill="#3d4146" textLength="67.5" lengthAdjust="spacingAndGlyphs">daanona aanapa ta</text>
<text x="920" y="524.3" font-size="6.6" fill="#3d4146" textLength="35" lengthAdjust="spacingAndGlyphs">baoenaad.</text>
</g>
<g id="legend">
<circle cx="1022.3" cy="440.9" r="5.6" fill="#db3e2c"/>
<rect x="1017.1" y="484.2" width="11.4" height="11.2" fill="#43a3b1"/>
<rect x="1017.1" y="514.2" width="11.4" height="11" fill="#f1ad40"/>
<text x="1039" y="444.2" font-size="10.7" fill="#fff" font-weight="bold" textLength="98" lengthAdjust="spacingAndGlyphs">Diemty tœ pro twer</text>
<text x="1039" y="460" font-size="10.3" fill="#e3e6e9" textLength="124.6" lengthAdjust="spacingAndGlyphs">Brœnodt dirng anvoling late</text>
<text x="1039" y="474.2" font-size="10.3" fill="#e3e6e9" textLength="95.7" lengthAdjust="spacingAndGlyphs">Erooreid lingar atle.</text>
<text x="1039" y="493.7" font-size="10.7" fill="#fff" font-weight="bold" textLength="57" lengthAdjust="spacingAndGlyphs">Refer ur aint</text>
<text x="1039" y="509" font-size="10.3" fill="#e3e6e9" textLength="89" lengthAdjust="spacingAndGlyphs">Rjafet Leyera laroel</text>
<text x="1039" y="524" font-size="10.3" fill="#e3e6e9" textLength="100" lengthAdjust="spacingAndGlyphs">Inorpror intal tmaring</text>
</g>
</svg>
</body></html>
